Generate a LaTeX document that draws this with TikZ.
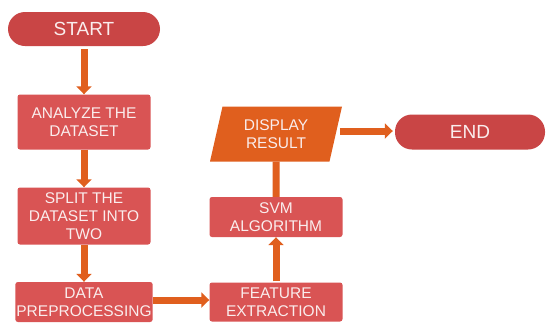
\documentclass[tikz,border=0pt]{standalone}
\usepackage{fontspec}
\setmainfont{Liberation Sans}
\usetikzlibrary{shapes.geometric,arrows.meta}
\definecolor{pillred}{HTML}{C94545}
\definecolor{boxred}{HTML}{D95454}
\definecolor{flowor}{HTML}{E05F1E}
\definecolor{txtw}{HTML}{FAEDED}
\tikzset{
  pill/.style={rectangle, rounded corners=17pt, fill=pillred, text=txtw, minimum width=152pt, minimum height=34pt, font=\fontsize{19}{22}\selectfont},
  stepbox/.style={rectangle, rounded corners=2.5pt, fill=boxred, text=txtw, minimum width=133pt, align=center, inner sep=1pt, font=\fontsize{15.5}{18}\selectfont},
  iobox/.style={trapezium, trapezium left angle=68, trapezium right angle=112, trapezium stretches body, fill=flowor, text=txtw, minimum width=132pt, minimum height=55pt, align=center, inner sep=1pt, font=\fontsize{15.5}{18}\selectfont},
  flow/.style={draw=flowor, line width=7pt, -{Triangle[width=15pt,length=8pt]}},
  flowline/.style={draw=flowor, line width=7pt}
}
\begin{document}
\begin{tikzpicture}[x=1pt,y=-1pt]
\useasboundingbox (0,0) rectangle (547,322);
\clip (0,0) rectangle (547,322);
\fill[white] (0,0) rectangle (547,322);
\node[pill] (start) at (84,29) {START};
\node[stepbox, minimum height=55pt] (analyze) at (84,122) {ANALYZE THE\\DATASET};
\node[stepbox, minimum height=57pt] (split) at (84,216) {SPLIT THE\\DATASET INTO\\TWO};
\node[stepbox, minimum height=40pt] (prep) at (84,302) {DATA\\PREPROCESSING};
\node[stepbox, minimum height=39pt] (feat) at (276,302) {FEATURE\\EXTRACTION};
\node[stepbox, minimum height=40pt] (svm) at (276,217) {SVM\\ALGORITHM};
\node[iobox] (disp) at (276,134) {DISPLAY\\RESULT};
\node[pill, minimum width=150pt, minimum height=35pt] (end) at (470,132) {END};
\draw[flow, shorten <=3pt] (start) -- (analyze);
\draw[flow] (analyze) -- (split);
\draw[flow] (split) -- (prep);
\draw[flow] (prep.east |- 0,300) -- (feat.west |- 0,300);
\draw[flow, shorten <=1pt] (feat) -- (svm);
\draw[flowline] (svm.north) -- (disp.south);
\draw[flow, shorten <=4pt, shorten >=2pt] (disp.east |- 0,131) -- (end.west |- 0,131);
\end{tikzpicture}
\end{document}
